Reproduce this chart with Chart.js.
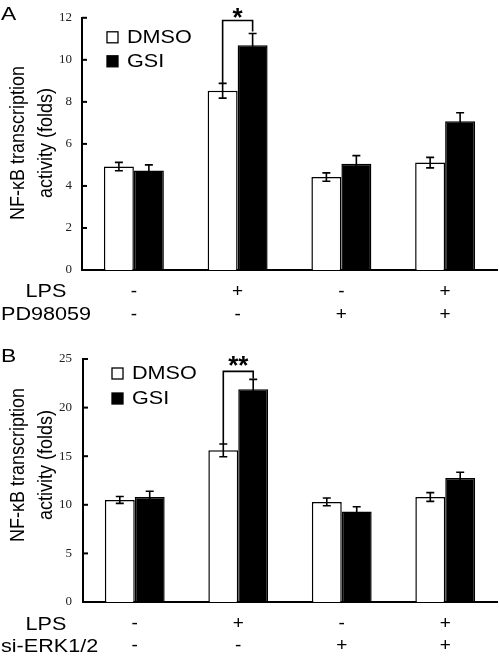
<!DOCTYPE html>
<html><head><meta charset="utf-8">
<script src="https://cdn.jsdelivr.net/npm/chart.js@4.4.0/dist/chart.umd.min.js"></script>
<style>
html,body{margin:0;padding:0;background:#fff;}
#wrap{position:relative;width:500px;height:658px;overflow:hidden;background:#fff;}
.box{position:absolute;left:0;width:500px;}
#boxA{top:0;height:329px;}
#boxB{top:305px;height:353px;}
</style></head><body>
<div id="wrap">
  <div class="box" id="boxA"><canvas id="cA"></canvas></div>
  <div class="box" id="boxB"><canvas id="cB"></canvas></div>
</div>
<script>
// ---------- data ----------
const seriesNames = ['DMSO', 'GSI'];
// Panel A
const lpsA = ['-', '+', '-', '+'];
const pdA = ['-', '-', '+', '+'];
const dmsoA = [4.92, 8.53, 4.42, 5.11];
const dmsoErrA = [0.2, 0.35, 0.2, 0.25];
const gsiA = [4.73, 10.69, 5.06, 7.08];
const gsiErrA = [0.27, 0.56, 0.38, 0.4];
const yTicksA = [0, 2, 4, 6, 8, 10, 12];
// Panel B
const lpsB = ['-', '+', '-', '+'];
const siB = ['-', '-', '+', '+'];
const dmsoB = [10.5, 15.6, 10.3, 10.8];
const dmsoErrB = [0.35, 0.65, 0.4, 0.45];
const gsiB = [10.8, 21.9, 9.3, 12.75];
const gsiErrB = [0.6, 1.0, 0.5, 0.6];
const yTicksB = [0, 5, 10, 15, 20, 25];

const SANS = '"Liberation Sans", Arial, sans-serif';
const SERIF = '"Liberation Serif", "Times New Roman", serif';
const STRETCH = 1.2;

function stretchedText(ctx, text, x, y, font, align, baseline) {
  ctx.save();
  ctx.font = font;
  ctx.textAlign = align || 'left';
  ctx.textBaseline = baseline || 'alphabetic';
  ctx.fillStyle = '#000';
  ctx.translate(x, y);
  ctx.scale(STRETCH, 1);
  ctx.fillText(text, 0, 0);
  ctx.restore();
}

const panelPlugin = {
  id: 'panel',
  afterDatasetsDraw(chart, args, o) {
    const ctx = chart.ctx, y = chart.scales.y;
    ctx.save();
    ctx.strokeStyle = '#000';
    ctx.lineWidth = 1.6;
    chart.data.datasets.forEach((ds, di) => {
      const meta = chart.getDatasetMeta(di);
      meta.data.forEach((bar, i) => {
        const v = ds.data[i], e = ds.errors[i];
        const yt = y.getPixelForValue(v + e), yb = y.getPixelForValue(v - e);
        ctx.beginPath();
        ctx.moveTo(bar.x, yt); ctx.lineTo(bar.x, yb);
        ctx.moveTo(bar.x - 4, yt); ctx.lineTo(bar.x + 4, yt);
        ctx.moveTo(bar.x - 4, yb); ctx.lineTo(bar.x + 4, yb);
        ctx.stroke();
      });
    });
    ctx.restore();
  },
  afterDraw(chart, args, o) {
    const ctx = chart.ctx, y = chart.scales.y, ca = chart.chartArea;
    ctx.save();
    // inward tick marks
    ctx.strokeStyle = '#000';
    ctx.lineWidth = 2;
    y.ticks.forEach(t => {
      const py = y.getPixelForValue(t.value);
      ctx.beginPath(); ctx.moveTo(ca.left, py); ctx.lineTo(ca.left + 5, py); ctx.stroke();
    });
    // legend
    chart.data.datasets.forEach((ds, di) => {
      const bx = ca.left + o.legendX, by = ca.top + o.legendY + di * o.legendGap;
      ctx.fillStyle = ds.backgroundColor;
      ctx.fillRect(bx, by, 11, 11);
      ctx.lineWidth = 1.3;
      ctx.strokeStyle = '#000';
      ctx.strokeRect(bx, by, 11, 11);
      stretchedText(ctx, ds.label, bx + 20, by + 11, '18px ' + SANS);
    });
    // significance bracket
    const g = o.sigGroup;
    const d0 = chart.data.datasets[0], d1 = chart.data.datasets[1];
    const b0 = chart.getDatasetMeta(0).data[g], b1 = chart.getDatasetMeta(1).data[g];
    const t0 = y.getPixelForValue(d0.data[g] + d0.errors[g]);
    const t1 = y.getPixelForValue(d1.data[g] + d1.errors[g]);
    const top = t1 - o.rise;
    ctx.strokeStyle = '#000';
    ctx.lineWidth = 1.6;
    ctx.beginPath();
    ctx.moveTo(b0.x, t0); ctx.lineTo(b0.x, top); ctx.lineTo(b1.x, top); ctx.lineTo(b1.x, t1 - o.gap);
    ctx.stroke();
    ctx.font = 'bold 26px ' + SANS;
    ctx.fillStyle = '#000';
    ctx.textAlign = 'center';
    ctx.textBaseline = 'alphabetic';
    ctx.fillText(o.sigLabel, (b0.x + b1.x) / 2, top - o.starUp + 15);
    // row headers
    const hf = '18px ' + SANS;
    ctx.font = hf;
    o.rows.forEach((r, i) => {
      const w = ctx.measureText(r).width * STRETCH;
      const cx = Math.max(46, w / 2 + 1);
      stretchedText(ctx, r, cx, ca.bottom + o.rowOffset + i * o.rowGap, hf, 'center', 'middle');
      ctx.font = hf;
    });
    // y title
    ctx.save();
    ctx.font = '18px ' + SANS;
    ctx.fillStyle = '#000';
    ctx.textAlign = 'center';
    ctx.textBaseline = 'alphabetic';
    o.titleLines.forEach((line, i) => {
      ctx.save();
      ctx.translate(o.titleX[i], o.titleY);
      ctx.scale(1.12, 1);
      ctx.rotate(-Math.PI / 2);
      ctx.fillText(line, 0, 0);
      ctx.restore();
    });
    ctx.restore();
    // panel letter
    stretchedText(ctx, o.letter, 1, o.letterY, '19px ' + SANS);
    ctx.restore();
  }
};

function makeChart(id, p) {
  return new Chart(document.getElementById(id), {
    type: 'bar',
    data: {
      labels: p.lps.map((v, i) => [v, p.second[i]]),
      datasets: [
        { label: seriesNames[0], data: p.dmso, errors: p.dmsoErr, backgroundColor: '#ffffff',
          borderColor: '#000', borderWidth: 1.5, categoryPercentage: 0.578, barPercentage: 1 },
        { label: seriesNames[1], data: p.gsi, errors: p.gsiErr, backgroundColor: '#000000',
          borderColor: '#000', borderWidth: 1.5, categoryPercentage: 0.578, barPercentage: 1 }
      ]
    },
    options: {
      responsive: true,
      maintainAspectRatio: false,
      animation: false,
      events: [],
      layout: { padding: { top: p.padTop, right: 3, left: 0, bottom: 0 } },
      plugins: {
        legend: { display: false },
        tooltip: { enabled: false },
        panel: p.panel
      },
      scales: {
        x: {
          z: 1,
          grid: { display: false, drawTicks: false },
          border: { display: true, color: '#000', width: 2 },
          ticks: { color: '#000', font: { family: SANS, size: 19 , lineHeight: p.rowGap / 19 },
                   padding: p.tickPad, maxRotation: 0, autoSkip: false },
          afterFit: s => { s.height = p.xHeight; }
        },
        y: {
          min: 0, max: p.yMax,
          afterBuildTicks: s => { s.ticks = p.yTicks.map(v => ({ value: v })); },
          grid: { display: false, drawTicks: false },
          border: { display: true, color: '#000', width: 2 },
          ticks: { color: '#222', font: { family: SERIF, size: 13 }, padding: p.yPad },
          afterFit: s => { s.width = p.yWidth; }
        }
      }
    },
    plugins: [panelPlugin]
  });
}

makeChart('cA', {
  lps: lpsA, second: pdA, dmso: dmsoA, dmsoErr: dmsoErrA, gsi: gsiA, gsiErr: gsiErrA,
  yMax: 12, yTicks: yTicksA, padTop: 15, xHeight: 59, yWidth: 82, yPad: 10, tickPad: 10, rowGap: 23,
  panel: {
    legendX: 25, legendY: 14, legendGap: 24,
    sigGroup: 1, sigLabel: '*', rise: 13, gap: 2, starUp: 10,
    rows: ['LPS', 'PD98059'], rowOffset: 22, rowGap: 23,
    titleLines: ['NF-\u03BAB transcription', 'activity (folds)'], titleX: [24, 52], titleY: 143,
    letter: 'A', letterY: 20
  }
});

makeChart('cB', {
  lps: lpsB, second: siB, dmso: dmsoB, dmsoErr: dmsoErrB, gsi: gsiB, gsiErr: gsiErrB,
  yMax: 25, yTicks: yTicksB, padTop: 54, xHeight: 56, yWidth: 83, yPad: 11, tickPad: 11, rowGap: 22,
  panel: {
    legendX: 29, legendY: 9, legendGap: 25,
    sigGroup: 1, sigLabel: '**', rise: 8, gap: 1, starUp: 12,
    rows: ['LPS', 'si-ERK1/2'], rowOffset: 23, rowGap: 22,
    titleLines: ['NF-\u03BAB transcription', 'activity (folds)'], titleX: [24, 52], titleY: 160,
    letter: 'B', letterY: 57
  }
});
</script>
</body></html>
